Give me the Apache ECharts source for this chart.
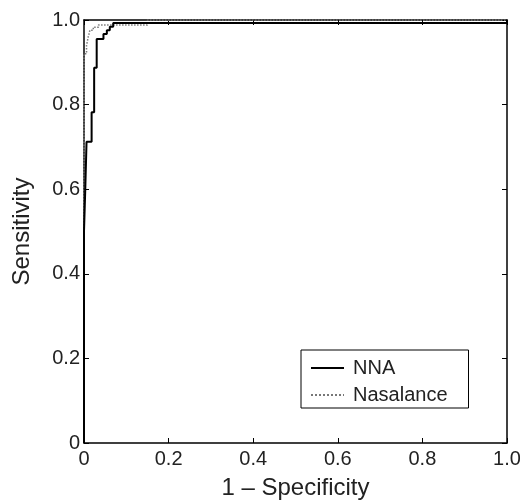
<!DOCTYPE html>
<html>
<head>
<meta charset="utf-8">
<script src="https://cdn.jsdelivr.net/npm/echarts@6/dist/echarts.min.js"></script>
<style>
  html, body { margin: 0; padding: 0; background: #fff; }
  #chart { width: 520px; height: 500px; }
</style>
</head>
<body>
<div id="chart"></div>
<script>
// ROC curves: [1 - specificity, sensitivity]
const nnaPoints = [
  [0, 0], [0, 0.5], [0.003, 0.5], [0.003, 0.6], [0.006, 0.6], [0.006, 0.712],
  [0.018, 0.712], [0.018, 0.782], [0.024, 0.782], [0.024, 0.887],
  [0.03, 0.887], [0.03, 0.955], [0.046, 0.955], [0.046, 0.967],
  [0.054, 0.967], [0.054, 0.976], [0.061, 0.976], [0.061, 0.984],
  [0.069, 0.984], [0.069, 0.993], [1, 0.993], [1, 1]
];
const nasalancePoints = [
  [0, 0], [0, 0.92], [0.006, 0.92], [0.006, 0.94], [0.01, 0.94], [0.01, 0.96],
  [0.014, 0.96], [0.014, 0.976], [0.022, 0.976], [0.022, 0.983],
  [0.034, 0.983], [0.034, 0.988], [0.15, 0.988], [0.15, 1], [1, 1]
];
const seriesNames = ['NNA', 'Nasalance'];

const font = 'Liberation Sans, Arial, sans-serif';
const fmt = v => (v === 0 ? '0' : v.toFixed(1));

const chart = echarts.init(document.getElementById('chart'));

const baseAxis = {
  type: 'value',
  min: 0,
  max: 1,
  interval: 0.2,
  axisLine: { show: true, onZero: false, lineStyle: { color: '#000', width: 1.5 } },
  axisTick: { show: true, inside: true, length: 5, lineStyle: { color: '#000', width: 1 } },
  splitLine: { show: false }
};

chart.setOption({
  animation: false,
  backgroundColor: '#fff',
  grid: { left: 84, right: 13, top: 20, bottom: 57, outerBoundsMode: 'none', containLabel: false },
  xAxis: [
    Object.assign({}, baseAxis, {
      position: 'bottom',
      name: '1 – Specificity',
      nameLocation: 'middle',
      nameGap: 33,
      nameTextStyle: { fontFamily: font, fontSize: 24, color: '#222' },
      axisLabel: { formatter: fmt, fontFamily: font, fontSize: 20, color: '#222', margin: 6 }
    }),
    Object.assign({}, baseAxis, { position: 'top', axisLabel: { show: false } })
  ],
  yAxis: [
    Object.assign({}, baseAxis, {
      position: 'left',
      name: 'Sensitivity',
      nameLocation: 'middle',
      nameGap: 50,
      nameTextStyle: { fontFamily: font, fontSize: 24, color: '#222' },
      axisLabel: { formatter: fmt, fontFamily: font, fontSize: 20, color: '#222', margin: 4 }
    }),
    Object.assign({}, baseAxis, { position: 'right', axisLabel: { show: false } })
  ],
  legend: {
    orient: 'vertical',
    left: 301,
    top: 350,
    data: seriesNames,
    itemWidth: 33,
    itemHeight: 20,
    itemGap: 7,
    padding: [8, 21, 3, 9],
    borderColor: '#000',
    borderWidth: 1,
    backgroundColor: '#fff',
    itemStyle: { opacity: 0 },
    textStyle: { fontFamily: font, fontSize: 20, color: '#222', padding: [0, 0, 0, 4] }
  },
  series: [
    {
      name: seriesNames[0],
      type: 'line',
      data: nnaPoints,
      symbol: 'none',
      lineStyle: { color: '#000', width: 2 },
      itemStyle: { color: '#000' },
      z: 3
    },
    {
      name: seriesNames[1],
      type: 'line',
      data: nasalancePoints,
      symbol: 'none',
      lineStyle: { color: '#777', width: 1.5, type: 'dotted' },
      itemStyle: { color: '#777' },
      z: 2
    }
  ]
});
</script>
</body>
</html>
